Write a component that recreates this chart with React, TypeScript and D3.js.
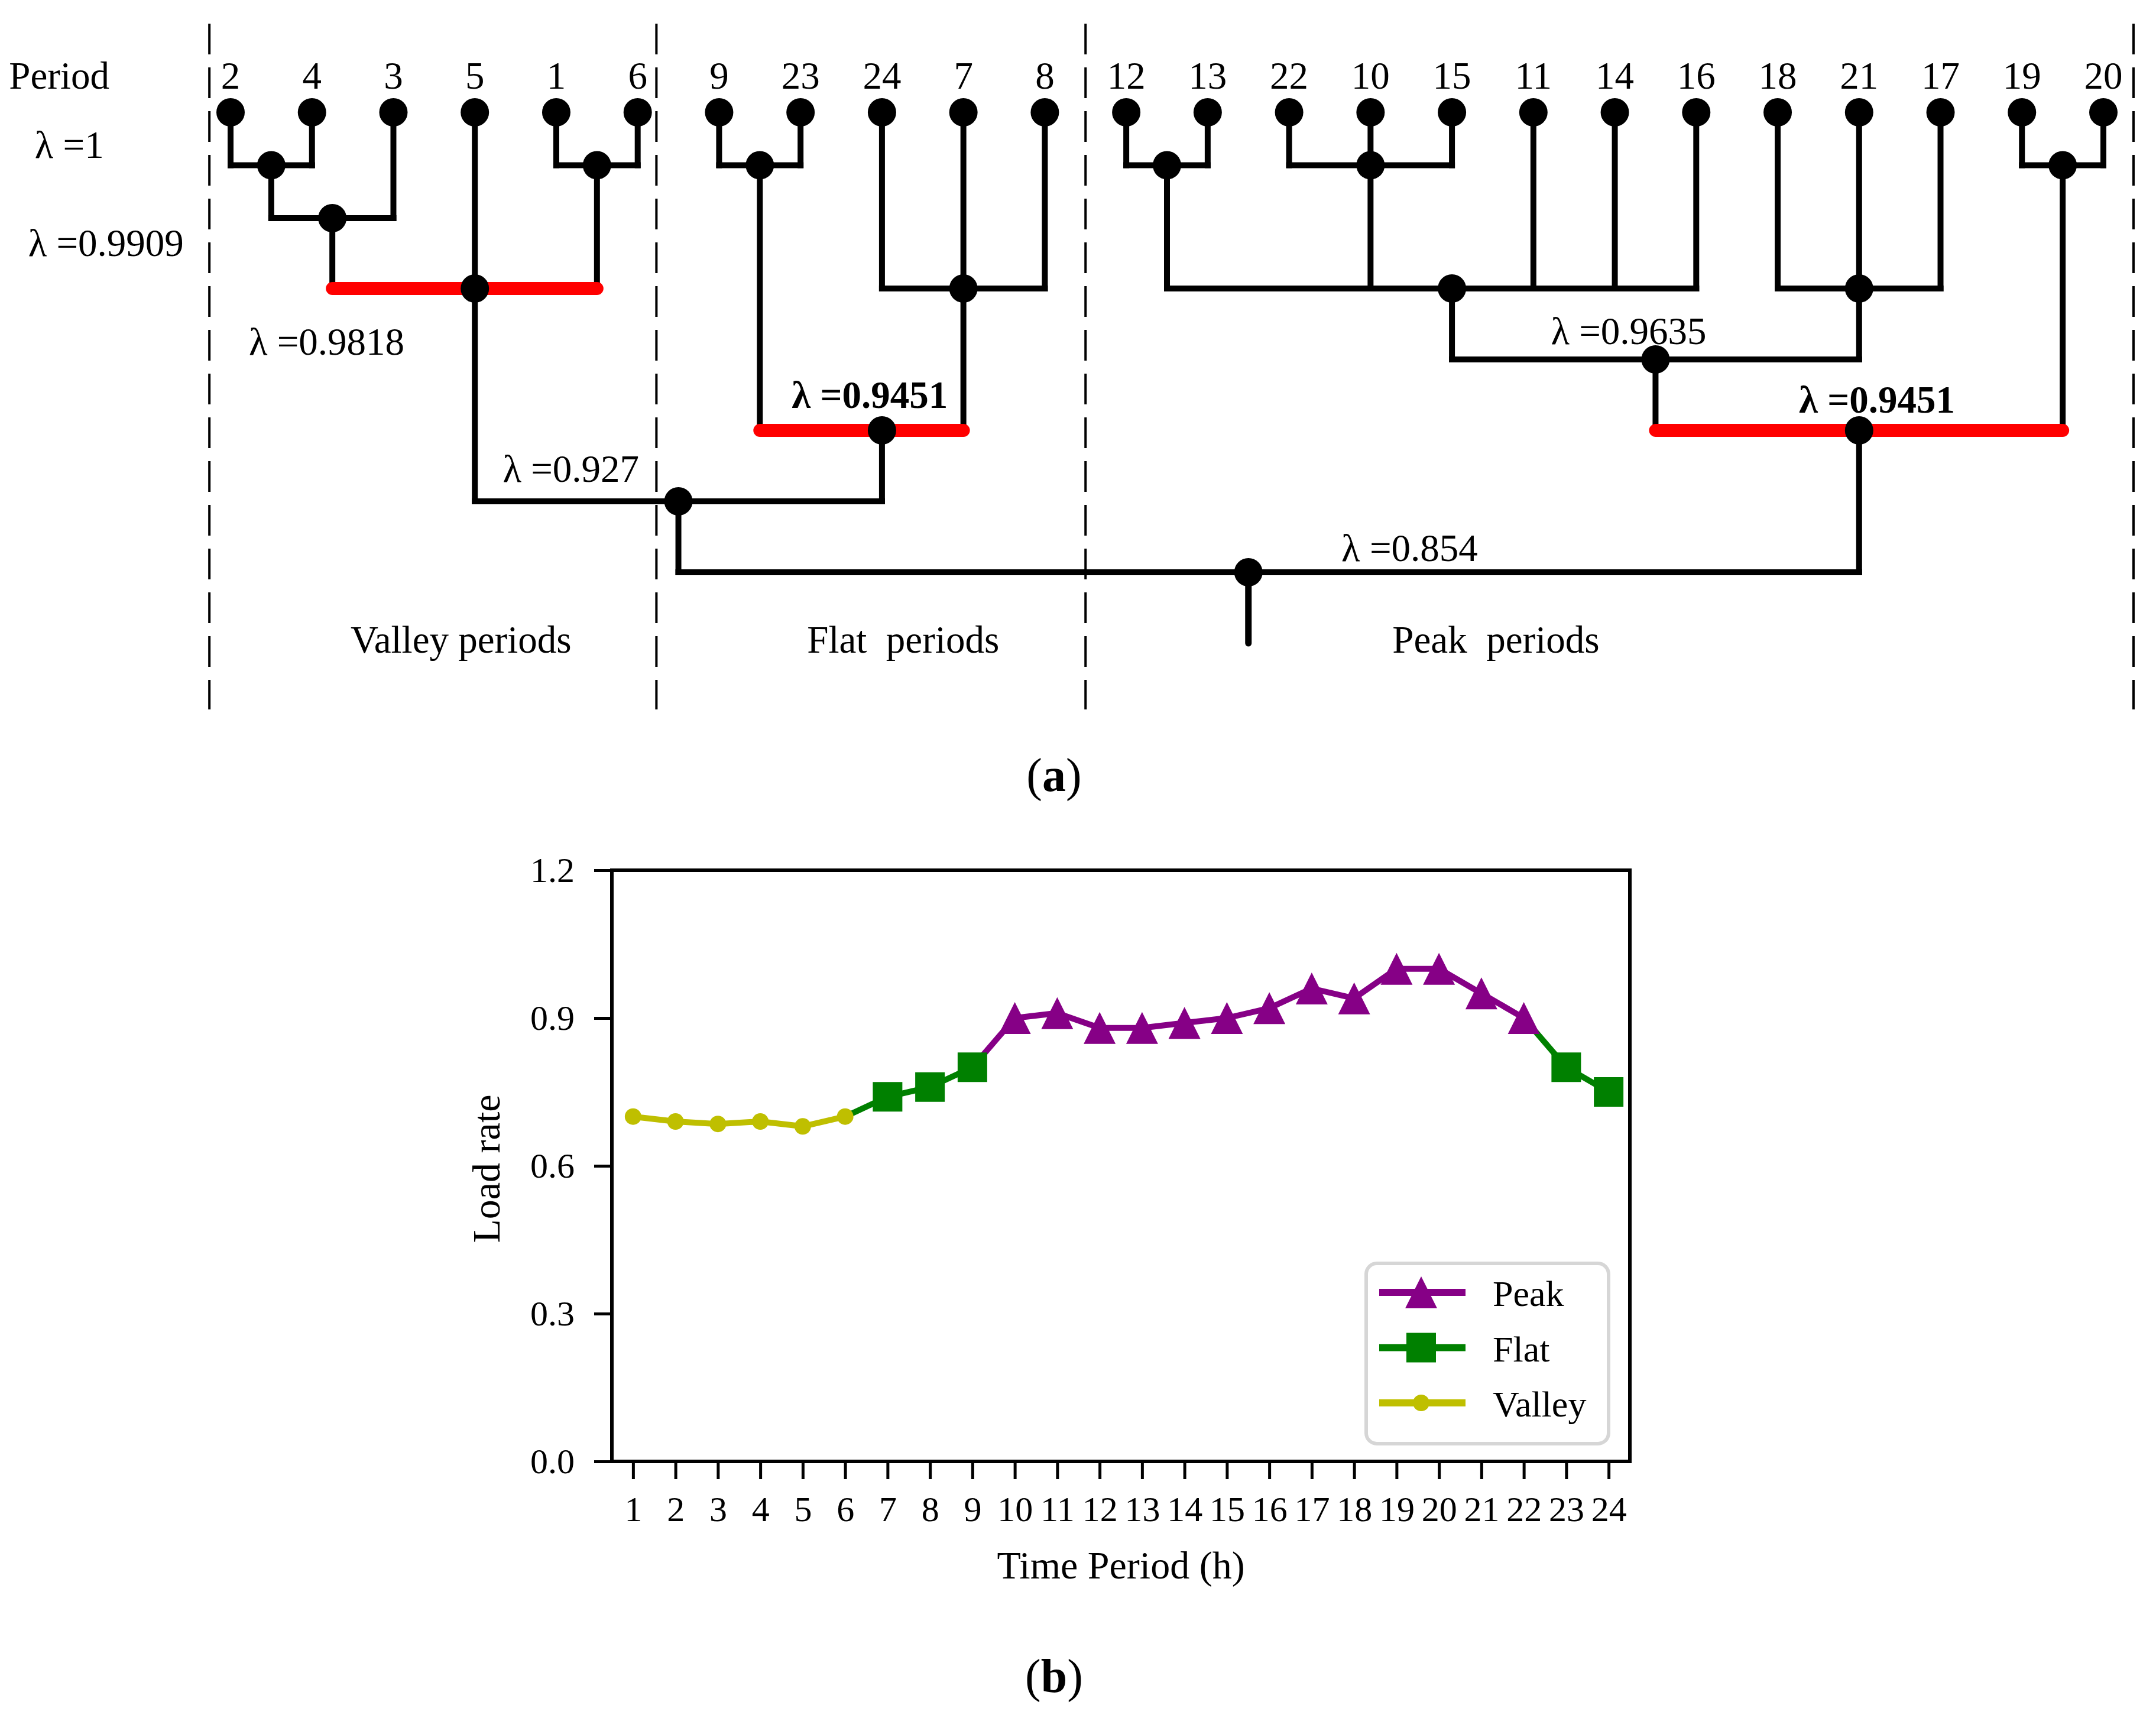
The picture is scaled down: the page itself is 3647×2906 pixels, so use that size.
import React, { useRef, useEffect } from "react";
import * as d3 from "d3";

const W = 3647;
const H = 2906;
const FONT = "'Liberation Serif', 'Times New Roman', serif";

// ---- (a) clustering tree ----
const leafOrder = ["2", "4", "3", "5", "1", "6", "9", "23", "24", "7", "8", "12", "13", "22", "10", "15", "11", "14", "16", "18", "21", "17", "19", "20"];

// level: 1 = λ 1, 2 = 0.9909, 3 = 0.9818, 4 = 0.9635, 5 = 0.9451, 6 = 0.927, 7 = 0.854
// at: where the node dot sits, in leaf slots
const merges = [
  { id: "A", children: ["2", "4"], level: 1, at: 0.5 },
  { id: "B", children: ["A", "3"], level: 2, at: 1.25 },
  { id: "C", children: ["1", "6"], level: 1, at: 4.5 },
  { id: "D", children: ["B", "5", "C"], level: 3, at: 3, red: true },
  { id: "E", children: ["9", "23"], level: 1, at: 6.5 },
  { id: "F", children: ["24", "7", "8"], level: 3, at: 9 },
  { id: "G", children: ["E", "F"], level: 5, at: 8, red: true },
  { id: "H", children: ["12", "13"], level: 1, at: 11.5 },
  { id: "I", children: ["22", "10", "15"], level: 1, at: 14 },
  { id: "J", children: ["H", "I", "11", "14", "16"], level: 3, at: 15 },
  { id: "K", children: ["18", "21", "17"], level: 3, at: 20 },
  { id: "L", children: ["J", "K"], level: 4, at: 17.5 },
  { id: "M", children: ["19", "20"], level: 1, at: 22.5 },
  { id: "N", children: ["L", "M"], level: 5, at: 20, red: true },
  { id: "O", children: ["D", "G"], level: 6, at: 5.5 },
  { id: "P", children: ["O", "N"], level: 7, at: 12.5 },
];

const lambdaLabels = [
  { text: "λ =1", level: 1, at: -1.98, dy: -13, bold: false },
  { text: "λ =0.9909", level: 2, at: -1.53, dy: 64, bold: false },
  { text: "λ =0.9818", level: 3, at: 1.18, dy: 112, bold: false },
  { text: "λ =0.9635", level: 4, at: 17.17, dy: -26, bold: false },
  { text: "λ =0.9451", level: 5, at: 7.85, dy: -38, bold: true },
  { text: "λ =0.9451", level: 5, at: 20.22, dy: -30, bold: true },
  { text: "λ =0.927", level: 6, at: 4.18, dy: -33, bold: false },
  { text: "λ =0.854", level: 7, at: 14.48, dy: -19, bold: false },
];

const dividers = [-0.26, 5.23, 10.5, 23.37];
const groupLabels = [
  { text: "Valley periods", at: 2.83 },
  { text: "Flat  periods", at: 8.26 },
  { text: "Peak  periods", at: 15.54 },
];

// ---- (b) load rate ----
const valleyHours = [1, 2, 3, 4, 5, 6];
const valleyLoad = [0.7, 0.69, 0.685, 0.69, 0.68, 0.7];
const flatHours = [7, 8, 9, 23, 24];
const flatLoad = [0.74, 0.76, 0.8, 0.8, 0.75];
const peakHours = [10, 11, 12, 13, 14, 15, 16, 17, 18, 19, 20, 21, 22];
const peakLoad = [0.9, 0.91, 0.88, 0.88, 0.89, 0.9, 0.92, 0.96, 0.94, 1.0, 1.0, 0.95, 0.9];
const yTicks = [0, 0.3, 0.6, 0.9, 1.2];

const COLORS: any = { Peak: "#860086", Flat: "#008000", Valley: "#bfbf00" };

const drawTree = (g: any) => {
  const xLeaf = d3.scaleLinear().domain([0, 23]).range([390, 3558]);
  const yLevel = d3.scaleLinear().domain([0, 2, 3, 8]).range([190, 369, 488, 1088]);

  // dashed separators
  g.selectAll(".divider")
    .data(dividers)
    .join("line")
    .attr("x1", (d: number) => xLeaf(d))
    .attr("x2", (d: number) => xLeaf(d))
    .attr("y1", 40)
    .attr("y2", 1200)
    .attr("stroke", "#000")
    .attr("stroke-width", 4)
    .attr("stroke-dasharray", "52,22");

  const pos: any = {};
  leafOrder.forEach((id, i) => (pos[id] = { i, level: 0 }));
  merges.forEach((m) => (pos[m.id] = { i: m.at, level: m.level }));

  // verticals
  merges.forEach((m) => {
    m.children.forEach((c) => {
      g.append("line")
        .attr("x1", xLeaf(pos[c].i))
        .attr("x2", xLeaf(pos[c].i))
        .attr("y1", yLevel(pos[c].level))
        .attr("y2", yLevel(m.level))
        .attr("stroke", "#000")
        .attr("stroke-width", 10)
        .attr("stroke-linecap", "square");
    });
  });
  const root = merges[merges.length - 1];
  g.append("line")
    .attr("x1", xLeaf(root.at))
    .attr("x2", xLeaf(root.at))
    .attr("y1", yLevel(root.level))
    .attr("y2", yLevel(8))
    .attr("stroke", "#000")
    .attr("stroke-width", 11)
    .attr("stroke-linecap", "round");

  // horizontals
  merges.forEach((m) => {
    const xs = m.children.map((c) => xLeaf(pos[c].i));
    g.append("line")
      .attr("x1", d3.min(xs))
      .attr("x2", d3.max(xs))
      .attr("y1", yLevel(m.level))
      .attr("y2", yLevel(m.level))
      .attr("stroke", m.red ? "#ff0000" : "#000")
      .attr("stroke-width", m.red ? 22 : 10)
      .attr("stroke-linecap", m.red ? "round" : "square");
  });

  // dots
  const dots = [...leafOrder.map((id) => pos[id]), ...merges.map((m) => pos[m.id])];
  g.selectAll(".dot")
    .data(dots)
    .join("circle")
    .attr("cx", (d: any) => xLeaf(d.i))
    .attr("cy", (d: any) => yLevel(d.level))
    .attr("r", 24)
    .attr("fill", "#000");

  const text = (sel: any) =>
    sel.attr("font-family", FONT).attr("font-size", 65).attr("fill", "#000").style("white-space", "pre");

  g.selectAll(".leafLabel")
    .data(leafOrder)
    .join("text")
    .call(text)
    .attr("x", (d: string, i: number) => xLeaf(i))
    .attr("y", yLevel(0) - 40)
    .attr("text-anchor", "middle")
    .text((d: string) => d);

  g.append("text")
    .call(text)
    .attr("x", xLeaf(-2.72))
    .attr("y", yLevel(0) - 40)
    .text("Period");

  g.selectAll(".lambda")
    .data(lambdaLabels)
    .join("text")
    .call(text)
    .attr("x", (d: any) => xLeaf(d.at))
    .attr("y", (d: any) => yLevel(d.level) + d.dy)
    .attr("text-anchor", "middle")
    .attr("font-weight", (d: any) => (d.bold ? "bold" : "normal"))
    .text((d: any) => d.text);

  g.selectAll(".group")
    .data(groupLabels)
    .join("text")
    .call(text)
    .attr("x", (d: any) => xLeaf(d.at))
    .attr("y", yLevel(8) + 16)
    .attr("text-anchor", "middle")
    .text((d: any) => d.text);

  const cap = g.append("text").call(text).attr("font-size", 80).attr("x", 1783).attr("y", 1338).attr("text-anchor", "middle");
  cap.append("tspan").text("(");
  cap.append("tspan").attr("font-weight", "bold").text("a");
  cap.append("tspan").text(")");
};

const markerPath = (kind: string) => {
  if (kind === "Peak") return "M0,-27L27,27L-27,27Z";
  if (kind === "Flat") return "M-25,-25H25V25H-25Z";
  return d3.symbol().type(d3.symbolCircle).size(Math.PI * 14 * 14)() as string;
};

const drawLoad = (g: any) => {
  const left = 1035, right = 2757, top = 1472, bottom = 2472;
  const x = d3.scaleLinear().domain([0.5, 24.5]).range([left, right]);
  const y = d3.scaleLinear().domain([0, 1.2]).range([bottom, top]);

  const points = [
    ...valleyHours.map((h, i) => ({ h, v: valleyLoad[i], cls: "Valley" })),
    ...flatHours.map((h, i) => ({ h, v: flatLoad[i], cls: "Flat" })),
    ...peakHours.map((h, i) => ({ h, v: peakLoad[i], cls: "Peak" })),
  ].sort((a, b) => a.h - b.h);

  // runs of the same class, each joined to the point before it
  const runs: any[] = [];
  points.forEach((p, i) => {
    const last = runs[runs.length - 1];
    if (last && last.cls === p.cls) last.pts.push(p);
    else runs.push({ cls: p.cls, pts: i > 0 ? [points[i - 1], p] : [p] });
  });

  const line = d3
    .line<any>()
    .x((d) => x(d.h))
    .y((d) => y(d.v));

  g.selectAll(".run")
    .data(runs)
    .join("path")
    .attr("d", (d: any) => line(d.pts))
    .attr("fill", "none")
    .attr("stroke", (d: any) => COLORS[d.cls])
    .attr("stroke-width", 10)
    .attr("stroke-linejoin", "round");

  ["Peak", "Flat", "Valley"].forEach((cls) => {
    g.selectAll(".m" + cls)
      .data(points.filter((p) => p.cls === cls))
      .join("path")
      .attr("transform", (d: any) => `translate(${x(d.h)},${y(d.v)})`)
      .attr("d", markerPath(cls))
      .attr("fill", COLORS[cls]);
  });

  const styleAxis = (ax: any) => {
    ax.select(".domain").remove();
    ax.selectAll(".tick line").attr("stroke", "#000").attr("stroke-width", 5);
    ax.selectAll(".tick text").attr("fill", "#000");
    ax.attr("font-family", FONT).attr("font-size", 60);
  };

  g.append("g")
    .attr("transform", `translate(0,${bottom})`)
    .call(
      d3
        .axisBottom(x)
        .tickValues(d3.range(1, 25))
        .tickFormat(d3.format("d"))
        .tickSize(30)
        .tickPadding(28)
        .tickSizeOuter(0)
    )
    .call(styleAxis);

  g.append("g")
    .attr("transform", `translate(${left},0)`)
    .call(d3.axisLeft(y).tickValues(yTicks).tickFormat(d3.format(".1f")).tickSize(30).tickPadding(33).tickSizeOuter(0))
    .call(styleAxis);

  g.append("rect")
    .attr("x", left)
    .attr("y", top)
    .attr("width", right - left)
    .attr("height", bottom - top)
    .attr("fill", "none")
    .attr("stroke", "#000")
    .attr("stroke-width", 6);

  g.append("text")
    .attr("font-family", FONT)
    .attr("font-size", 66)
    .attr("x", (left + right) / 2)
    .attr("y", 2670)
    .attr("text-anchor", "middle")
    .text("Time Period (h)");

  g.append("text")
    .attr("font-family", FONT)
    .attr("font-size", 66)
    .attr("transform", `translate(845,${(top + bottom) / 2 + 5}) rotate(-90)`)
    .attr("text-anchor", "middle")
    .text("Load rate");

  // legend
  const legend = g.append("g");
  legend
    .append("rect")
    .attr("x", 2311)
    .attr("y", 2137)
    .attr("width", 410)
    .attr("height", 305)
    .attr("rx", 18)
    .attr("fill", "#fff")
    .attr("stroke", "#d6d6d6")
    .attr("stroke-width", 6);

  const entries = ["Peak", "Flat", "Valley"];
  const ly = d3.scalePoint().domain(entries).range([2186, 2373]);
  entries.forEach((cls) => {
    const row = legend.append("g").attr("transform", `translate(0,${ly(cls)})`);
    row.append("line").attr("x1", 2333).attr("x2", 2479).attr("stroke", COLORS[cls]).attr("stroke-width", 12);
    row.append("path").attr("transform", "translate(2404,0)").attr("d", markerPath(cls)).attr("fill", COLORS[cls]);
    row
      .append("text")
      .attr("x", 2525)
      .attr("y", 23)
      .attr("font-family", FONT)
      .attr("font-size", 62)
      .text(cls);
  });

  const cap = g.append("text").attr("font-family", FONT).attr("font-size", 80).attr("x", 1783).attr("y", 2862).attr("text-anchor", "middle");
  cap.append("tspan").text("(");
  cap.append("tspan").attr("font-weight", "bold").text("b");
  cap.append("tspan").text(")");
};

const App = () => {
  const ref = useRef<SVGSVGElement>(null);

  useEffect(() => {
    const svg = d3.select(ref.current);
    svg.selectAll("*").remove();
    drawTree(svg.append("g"));
    drawLoad(svg.append("g"));
  }, []);

  return (
    <svg
      ref={ref}
      width={W}
      height={H}
      style={{ position: "absolute", left: 0, top: 0, background: "#fff" }}
    />
  );
};

export default App;
